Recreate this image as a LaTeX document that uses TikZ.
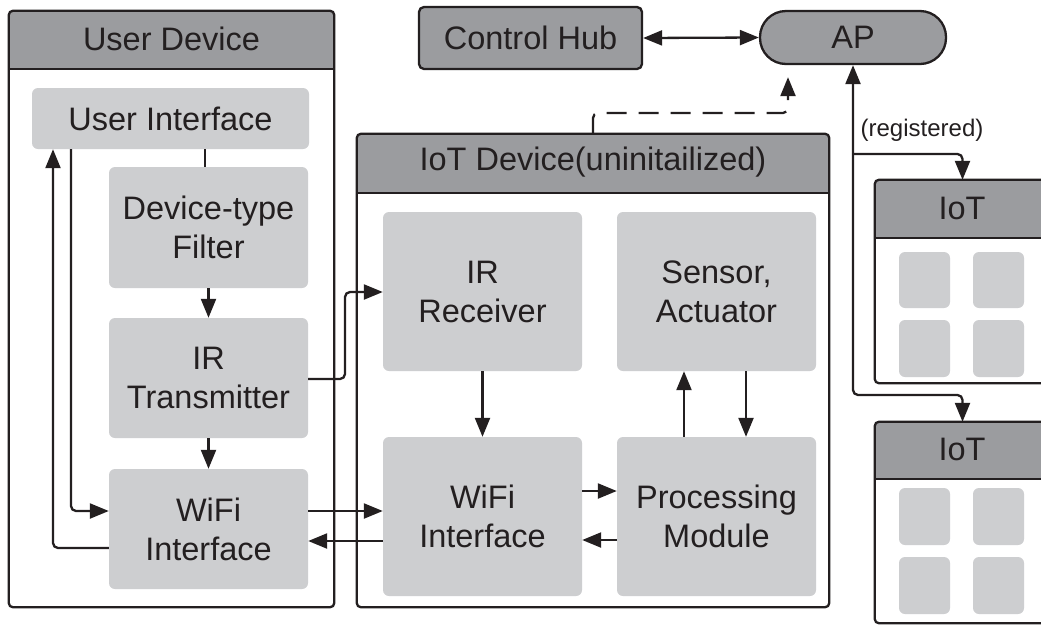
\documentclass[tikz,border=0pt]{standalone}
\usepackage{fontspec}
\setmainfont{Liberation Sans}
\usetikzlibrary{arrows.meta}
\definecolor{hdr}{HTML}{9B9C9F}
\definecolor{lite}{HTML}{CDCED0}
\definecolor{ink}{HTML}{231F20}
\begin{document}
\begin{tikzpicture}[x=1pt,y=-1pt,
  every node/.style={font=\fontsize{32.5}{39}\selectfont, text=ink},
  blk/.style={fill=lite, rounded corners=6pt, align=center, inner sep=0pt},
  cont/.style={fill=white, inner sep=0pt},
  ln/.style={draw=ink, line width=2.3pt},
  arr/.style={ln, -{Triangle[length=19pt,width=15pt]}},
  barr/.style={ln, {Triangle[length=19pt,width=15pt]}-{Triangle[length=19pt,width=15pt]}},
  rc/.style={rounded corners=5pt},
  lbl/.style={font=\fontsize{24}{28}\selectfont}]
\useasboundingbox (0,0) rectangle (1041,625);
\clip (0,0) rectangle (1041,625);

% ---------- User Device container ----------
\node[cont, minimum width=325pt, minimum height=596pt] (ud) at (171.5,309) {};
\begin{scope}
  \clip[rounded corners=4pt] (ud.north west) rectangle (ud.south east);
  \fill[hdr] (ud.north west) rectangle (334,69);
\end{scope}
\draw[ln] (9,69) -- (334,69);
\draw[ln, rounded corners=4pt] (ud.north west) rectangle (ud.south east);
\node (udh) at (171.5,39) {User Device};

% ---------- IoT Device container ----------
\node[cont, minimum width=472pt, minimum height=473pt] (iot) at (593,370.5) {};
\begin{scope}
  \clip[rounded corners=4pt] (iot.north west) rectangle (iot.south east);
  \fill[hdr] (iot.north west) rectangle (829,193);
\end{scope}
\draw[ln] (357,193) -- (829,193);
\draw[ln, rounded corners=4pt] (iot.north west) rectangle (iot.south east);
\node (ioth) at (593,162.5) {IoT Device(uninitailized)};

% ---------- right IoT containers ----------
\node[cont, minimum width=175pt, minimum height=203pt] (iot1) at (962.5,281.5) {};
\begin{scope}
  \clip[rounded corners=4pt] (iot1.north west) rectangle (iot1.south east);
  \fill[hdr] (iot1.north west) rectangle (1050,238);
\end{scope}
\draw[ln] (875,238) -- (1050,238);
\draw[ln, rounded corners=4pt] (iot1.north west) rectangle (iot1.south east);
\node (iot1h) at (962,208) {IoT};

\node[cont, minimum width=175pt, minimum height=201pt] (iot2) at (962.5,522.5) {};
\begin{scope}
  \clip[rounded corners=4pt] (iot2.north west) rectangle (iot2.south east);
  \fill[hdr] (iot2.north west) rectangle (1050,479);
\end{scope}
\draw[ln] (875,479) -- (1050,479);
\draw[ln, rounded corners=4pt] (iot2.north west) rectangle (iot2.south east);
\node (iot2h) at (962,449.5) {IoT};

\foreach \x in {899,973}{
  \foreach \ya/\yb in {252/308,320/377,488/545,557/614}{
    \fill[lite, rounded corners=6pt] (\x,\ya) rectangle (\x+51,\yb);
  }
}

% ---------- User Device blocks ----------
\node[blk, minimum width=277pt, minimum height=61pt] (ui) at (170.5,118.5) {User Interface};
\node[blk, minimum width=199pt, minimum height=121pt] (flt) at (208.5,227.5) {Device-type\\Filter};
\node[blk, minimum width=199pt, minimum height=120pt] (irt) at (208.5,378) {IR\\Transmitter};
\node[blk, minimum width=199pt, minimum height=120pt] (wu) at (208.5,529) {WiFi\\Interface};

% ---------- IoT Device blocks ----------
\node[blk, minimum width=199pt, minimum height=159pt] (irr) at (482.5,291.5) {IR\\Receiver};
\node[blk, minimum width=199pt, minimum height=159pt] (sa) at (716.5,291.5) {Sensor,\\Actuator};
\node[blk, minimum width=199pt, minimum height=159pt] (wi) at (482.5,516.5) {WiFi\\Interface};
\node[blk, minimum width=199pt, minimum height=159pt] (pm) at (716.5,516.5) {Processing\\Module};

% ---------- Control Hub & AP ----------
\node[draw=ink, line width=2.3pt, fill=hdr, rounded corners=5pt, inner sep=0pt,
      minimum width=223pt, minimum height=62pt] (ch) at (530.5,38) {Control Hub};
\node[draw=ink, line width=2.3pt, fill=hdr, rounded corners=26pt, inner sep=0pt,
      minimum width=186pt, minimum height=53pt] (ap) at (853,37.5) {AP};

% ---------- helper coordinates ----------
\coordinate (x205) at (205,0);
\coordinate (p1) at (71,511);
\coordinate (p2) at (53,548);
\coordinate (p3) at (345,379);
\coordinate (p4) at (345,292);
\coordinate (p5) at (345,511);
\coordinate (p6) at (345,541);
\coordinate (q1) at (684,0);
\coordinate (q2) at (746,0);
\coordinate (q3) at (600,491);
\coordinate (q4) at (600,540);
\coordinate (d2) at (788,113);
\coordinate (r0) at (854,154);
\coordinate (r1) at (854,395);

% ---------- connectors: User Device ----------
\draw[ln] (x205 |- ui.south) -- (x205 |- flt.north);
\draw[arr] (flt.south) -- (irt.north);
\draw[arr] (irt.south) -- (wu.north);
\draw[arr, rc] (p1 |- ui.south) -- (p1) -- (wu.west |- p1);
\draw[arr, rc] (wu.west |- p2) -- (p2) -- (p2 |- ui.south);

% ---------- connectors: between devices ----------
\draw[arr, rc] (irt.east |- p3) -- (p3) -- (p4) -- (irr.west |- p4);
\draw[arr] (wu.east |- p5) -- (wi.west |- p5);
\draw[arr] (wi.west |- p6) -- (wu.east |- p6);

% ---------- connectors: IoT Device ----------
\draw[arr] (irr.south) -- (wi.north);
\draw[arr] (q1 |- pm.north) -- (q1 |- sa.south);
\draw[arr] (q2 |- sa.south) -- (q2 |- pm.north);
\draw[arr] (wi.east |- q3) -- (pm.west |- q3);
\draw[arr] (pm.west |- q4) -- (wi.east |- q4);

% ---------- network ----------
\draw[barr] (ch.east) -- (ap.west);
\draw[arr, rc, dash pattern=on 20pt off 12pt, shorten >=12pt] (iot.north) |- (d2) -- (d2 |- ap.south);
\draw[ln, rc, {Triangle[length=19pt,width=15pt]}-{Triangle[length=19pt,width=15pt]}]
  (ap.south) -- (ap.south |- r1) -- (iot2.north |- r1) -- (iot2.north);
\draw[arr, rc] (ap.south |- r0) -- (iot1.north |- r0) -- (iot1.north);
\node[lbl] (reg) at (922,130) {(registered)};
\end{tikzpicture}
\end{document}
